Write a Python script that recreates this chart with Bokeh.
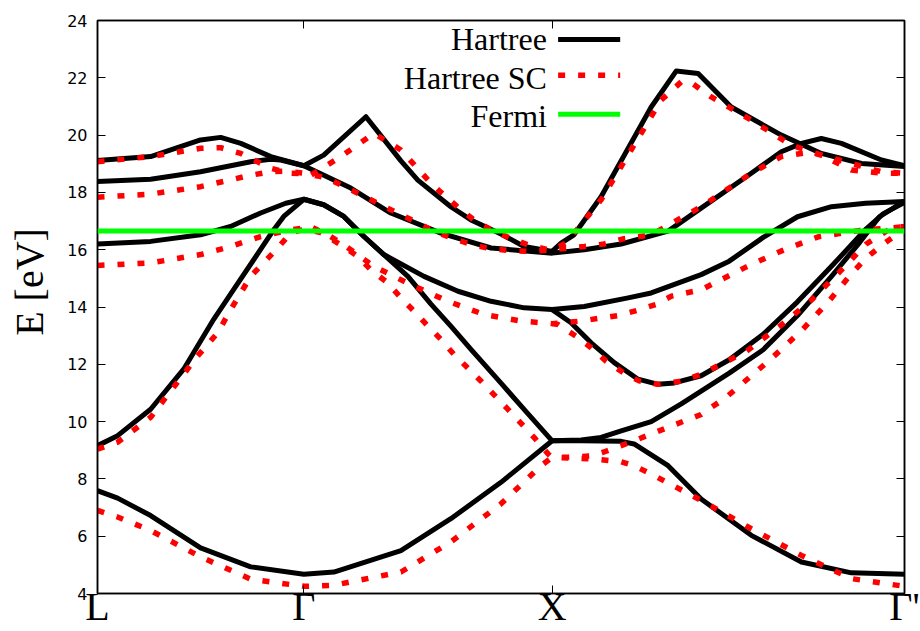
from bokeh.plotting import figure
from bokeh.models import FixedTicker, LinearAxis, Range1d, Span, Label, Arrow
from bokeh.embed import file_html
from bokeh.resources import INLINE

# ---------------- data ----------------
k_ticks = [0.0, 0.831, 1.831, 3.25]
k_labels = ["L", "Γ", "X", "Γ'"]
y_ticks = [4, 6, 8, 10, 12, 14, 16, 18, 20, 22, 24]
fermi_level = 16.65

# Hartree bands
k_h1 = [0.0, 0.081, 0.214, 0.415, 0.617, 0.831, 0.952, 1.222, 1.423, 1.625, 1.831, 1.948, 2.109, 2.161, 2.298, 2.431, 2.633, 2.835, 3.036, 3.25]
e_h1 = [7.59, 7.33, 6.72, 5.59, 4.93, 4.67, 4.75, 5.5, 6.61, 7.88, 9.33, 9.33, 9.31, 9.22, 8.46, 7.3, 6.03, 5.1, 4.72, 4.67]

k_h2 = [0.0, 0.081, 0.214, 0.347, 0.468, 0.548, 0.629, 0.710, 0.750, 0.831, 0.911, 0.992, 1.073, 1.153, 1.250, 1.343, 1.423, 1.504, 1.625, 1.726, 1.831, 1.948, 2.028, 2.109, 2.230, 2.351, 2.544, 2.681, 2.819, 2.956, 3.069, 3.149, 3.25]
e_h2 = [9.16, 9.51, 10.43, 11.83, 13.57, 14.61, 15.65, 16.7, 17.16, 17.76, 17.57, 17.16, 16.46, 15.83, 15.07, 14.1, 13.33, 12.52, 11.34, 10.35, 9.33, 9.36, 9.45, 9.68, 10.0, 10.62, 11.69, 12.51, 13.7, 15.07, 16.25, 17.15, 17.7]

k_h3 = [0.0, 0.214, 0.415, 0.536, 0.657, 0.758, 0.831, 0.911, 0.992, 1.073, 1.153, 1.315, 1.452, 1.585, 1.718, 1.831, 1.960, 2.137, 2.230, 2.431, 2.544, 2.681, 2.819, 2.956, 3.093, 3.25]
e_h3 = [16.2, 16.29, 16.52, 16.81, 17.28, 17.62, 17.76, 17.57, 17.16, 16.46, 15.83, 15.07, 14.55, 14.2, 13.97, 13.91, 14.02, 14.32, 14.49, 15.13, 15.6, 16.43, 17.15, 17.5, 17.62, 17.68]

k_h4 = [1.831, 1.907, 1.988, 2.081, 2.177, 2.258, 2.323, 2.431, 2.544, 2.681, 2.819, 2.956, 3.096, 3.165, 3.25]
e_h4 = [13.91, 13.45, 12.75, 12.06, 11.48, 11.3, 11.35, 11.6, 12.16, 13.05, 14.18, 15.42, 16.73, 17.26, 17.65]

k_h5 = [0.0, 0.214, 0.415, 0.617, 0.698, 0.738, 0.831, 0.952, 1.020, 1.181, 1.383, 1.585, 1.831, 1.960, 2.109, 2.298, 2.431, 2.633, 2.754, 2.835, 2.915, 2.996, 3.157, 3.25]
e_h5 = [18.38, 18.46, 18.72, 19.07, 19.16, 19.13, 18.93, 18.43, 18.15, 17.28, 16.58, 16.06, 15.88, 16.0, 16.2, 16.65, 17.45, 18.67, 19.42, 19.71, 19.88, 19.71, 19.13, 18.93]

k_h6 = [0.0, 0.214, 0.415, 0.496, 0.577, 0.698, 0.831, 0.911, 1.081, 1.222, 1.290, 1.423, 1.504, 1.625, 1.718, 1.831, 1.867, 1.919, 2.028, 2.230, 2.331, 2.419, 2.552, 2.754, 2.915, 3.077, 3.25]
e_h6 = [19.11, 19.25, 19.83, 19.92, 19.71, 19.25, 18.93, 19.3, 20.64, 19.1, 18.43, 17.5, 17.04, 16.55, 16.11, 15.94, 16.23, 16.52, 17.85, 20.98, 22.24, 22.15, 20.98, 20.0, 19.36, 19.01, 18.9]

# Hartree SC bands
k_s1 = [0.0, 0.081, 0.214, 0.415, 0.617, 0.831, 0.952, 1.222, 1.423, 1.625, 1.786, 1.831, 1.895, 1.988, 2.109, 2.161, 2.230, 2.431, 2.633, 2.835, 3.036, 3.25]
e_s1 = [6.9, 6.67, 6.2, 5.28, 4.5, 4.25, 4.29, 4.75, 5.8, 7.13, 8.46, 8.75, 8.73, 8.7, 8.6, 8.46, 8.17, 7.25, 6.26, 5.33, 4.52, 4.25]

k_s2 = [0.0, 0.081, 0.214, 0.403, 0.484, 0.536, 0.577, 0.617, 0.669, 0.726, 0.778, 0.831, 0.899, 0.992, 1.048, 1.101, 1.169, 1.222, 1.274, 1.331, 1.383, 1.435, 1.544, 1.653, 1.758, 1.815, 1.831, 1.895, 1.988, 2.040, 2.161, 2.230, 2.431, 2.532, 2.710, 2.835, 2.944, 3.040, 3.097, 3.165, 3.25]
e_s2 = [9.04, 9.28, 10.15, 12.29, 13.1, 13.9, 14.49, 15.07, 15.54, 16.06, 16.58, 16.72, 16.6, 16.1, 15.77, 15.3, 14.84, 14.32, 13.86, 13.33, 12.87, 12.35, 11.42, 10.43, 9.45, 8.87, 8.75, 8.76, 8.8, 8.94, 9.33, 9.57, 10.25, 10.85, 12.17, 13.17, 14.19, 15.2, 15.72, 16.2, 16.73]

k_s3 = [0.0, 0.214, 0.415, 0.536, 0.657, 0.778, 0.831, 0.859, 0.927, 0.992, 1.113, 1.262, 1.411, 1.556, 1.706, 1.831, 1.948, 2.016, 2.097, 2.177, 2.250, 2.311, 2.431, 2.613, 2.752, 2.903, 3.069, 3.25]
e_s3 = [15.45, 15.54, 15.83, 16.11, 16.46, 16.7, 16.75, 16.8, 16.52, 16.17, 15.42, 14.78, 14.2, 13.74, 13.51, 13.42, 13.51, 13.6, 13.7, 13.89, 14.09, 14.38, 14.6, 15.4, 15.95, 16.45, 16.67, 16.8]

k_s4 = [1.831, 1.855, 1.927, 1.988, 2.048, 2.117, 2.181, 2.258, 2.343, 2.431, 2.613, 2.752, 2.875, 2.986, 3.096, 3.206, 3.25]
e_s4 = [13.42, 13.39, 12.98, 12.58, 12.11, 11.71, 11.42, 11.3, 11.4, 11.65, 12.45, 13.36, 14.24, 15.2, 16.2, 16.8, 16.8]

k_s5 = [0.0, 0.214, 0.415, 0.617, 0.698, 0.758, 0.831, 0.899, 0.940, 1.020, 1.089, 1.153, 1.222, 1.290, 1.355, 1.435, 1.512, 1.585, 1.665, 1.746, 1.831, 1.960, 2.040, 2.117, 2.230, 2.431, 2.633, 2.754, 2.835, 2.875, 3.036, 3.157, 3.25]
e_s5 = [17.83, 17.94, 18.2, 18.6, 18.72, 18.74, 18.67, 18.55, 18.43, 18.09, 17.8, 17.51, 17.22, 16.94, 16.64, 16.38, 16.17, 16.03, 15.97, 15.94, 16.0, 16.11, 16.2, 16.38, 16.52, 17.5, 18.67, 19.25, 19.36, 19.4, 19.01, 18.72, 18.67]

k_s6 = [0.0, 0.214, 0.415, 0.496, 0.577, 0.698, 0.778, 0.831, 0.859, 0.980, 1.113, 1.222, 1.343, 1.395, 1.456, 1.516, 1.585, 1.657, 1.734, 1.815, 1.831, 1.887, 2.028, 2.149, 2.270, 2.351, 2.391, 2.472, 2.633, 2.794, 2.915, 3.036, 3.157, 3.25]
e_s6 = [19.07, 19.25, 19.54, 19.56, 19.36, 18.84, 18.67, 18.65, 18.6, 19.25, 20.06, 19.48, 18.32, 17.91, 17.45, 17.04, 16.7, 16.42, 16.17, 16.0, 16.0, 16.23, 17.74, 19.48, 21.22, 21.86, 21.83, 21.33, 20.52, 19.65, 19.3, 18.78, 18.67, 18.67]

hartree_bands = [(k_h1, e_h1), (k_h2, e_h2), (k_h3, e_h3), (k_h4, e_h4), (k_h5, e_h5), (k_h6, e_h6)]
sc_bands = [(k_s1, e_s1), (k_s2, e_s2), (k_s3, e_s3), (k_s4, e_s4), (k_s5, e_s5), (k_s6, e_s6)]

legend_names = ["Hartree", "Hartree SC", "Fermi"]
y_axis_title = "E [eV]"

# ---------------- styles ----------------
BLACK = "#000000"
RED = "#ff0000"
GREEN = "#00ff00"
LW_BAND = 5
RED_DASH = "7 13"
SERIF = "Liberation Serif"
NBSP = "\u00a0"

p = figure(width=920, height=631, output_backend="svg", toolbar_location=None,
           x_range=Range1d(0.0, 3.25), y_range=Range1d(4, 24),
           min_border_left=97, min_border_right=16, min_border_top=20, min_border_bottom=36)
p.background_fill_color = "white"
p.border_fill_color = "white"
p.grid.visible = False
p.outline_line_color = "black"
p.outline_line_width = 1.5

# left axis
p.yaxis.ticker = FixedTicker(ticks=y_ticks)
p.yaxis.major_tick_in = 8
p.yaxis.major_tick_out = 0
p.yaxis.minor_tick_in = 0
p.yaxis.minor_tick_out = 0
p.yaxis.major_label_text_font = "DejaVu Sans"
p.yaxis.major_label_text_font_size = "16px"
p.yaxis.major_label_text_color = "black"
p.yaxis.major_label_standoff = 10
p.yaxis.axis_line_width = 1.5
p.yaxis.axis_label = NBSP * 5 + y_axis_title
p.yaxis.axis_label_text_font = SERIF
p.yaxis.axis_label_text_font_size = "40px"
p.yaxis.axis_label_text_font_style = "normal"
p.yaxis.axis_label_text_color = "black"
p.yaxis.axis_label_standoff = 12

# bottom axis
p.xaxis.ticker = FixedTicker(ticks=k_ticks)
p.xaxis.major_label_overrides = {k: lab for k, lab in zip(k_ticks, k_labels)}
p.xaxis.major_tick_in = 8
p.xaxis.major_tick_out = 0
p.xaxis.minor_tick_in = 0
p.xaxis.minor_tick_out = 0
p.xaxis.major_label_text_font = SERIF
p.xaxis.major_label_text_font_size = "40px"
p.xaxis.major_label_text_color = "black"
p.xaxis.major_label_standoff = -10
p.xaxis.axis_line_width = 1.5

r_axis = LinearAxis(ticker=FixedTicker(ticks=y_ticks), major_label_text_font_size="1px",
                    major_label_text_color=None, major_label_standoff=0,
                    major_tick_in=8, major_tick_out=0, minor_tick_in=0, minor_tick_out=0,
                    axis_line_width=1.5)
p.add_layout(r_axis, "right")
t_axis = LinearAxis(ticker=FixedTicker(ticks=k_ticks), major_label_text_font_size="1px",
                    major_label_text_color=None, major_label_standoff=0,
                    major_tick_in=8, major_tick_out=0, minor_tick_in=0, minor_tick_out=0,
                    axis_line_width=1.5)
p.add_layout(t_axis, "above")

# bands
for k, e in hartree_bands:
    p.line(k, e, line_color=BLACK, line_width=LW_BAND, line_join="round")
for k, e in sc_bands:
    p.line(k, e, line_color=RED, line_width=5.5, line_dash=RED_DASH)

p.add_layout(Span(location=fermi_level, dimension="width", line_color=GREEN, line_width=5))

# legend (text on left, sample on right)
leg_text_x = 1.81
leg_text_y = [23.36, 22.0, 20.65]
leg_line_x = (1.855, 2.105)
leg_line_y = [23.34, 22.09, 20.73]
leg_styles = [dict(line_color=BLACK, line_width=LW_BAND),
              dict(line_color=RED, line_width=5.5, line_dash=RED_DASH),
              dict(line_color=GREEN, line_width=5)]
for name, ty, ly, st in zip(legend_names, leg_text_y, leg_line_y, leg_styles):
    p.add_layout(Label(x=leg_text_x, y=ty, text=name, text_align="right",
                       text_baseline="alphabetic", text_font=SERIF,
                       text_font_size="32px", text_color="black"))
    p.add_layout(Arrow(end=None, x_start=leg_line_x[0], y_start=ly,
                       x_end=leg_line_x[1], y_end=ly, **st))

open("out.html", "w").write(file_html(p, INLINE))
